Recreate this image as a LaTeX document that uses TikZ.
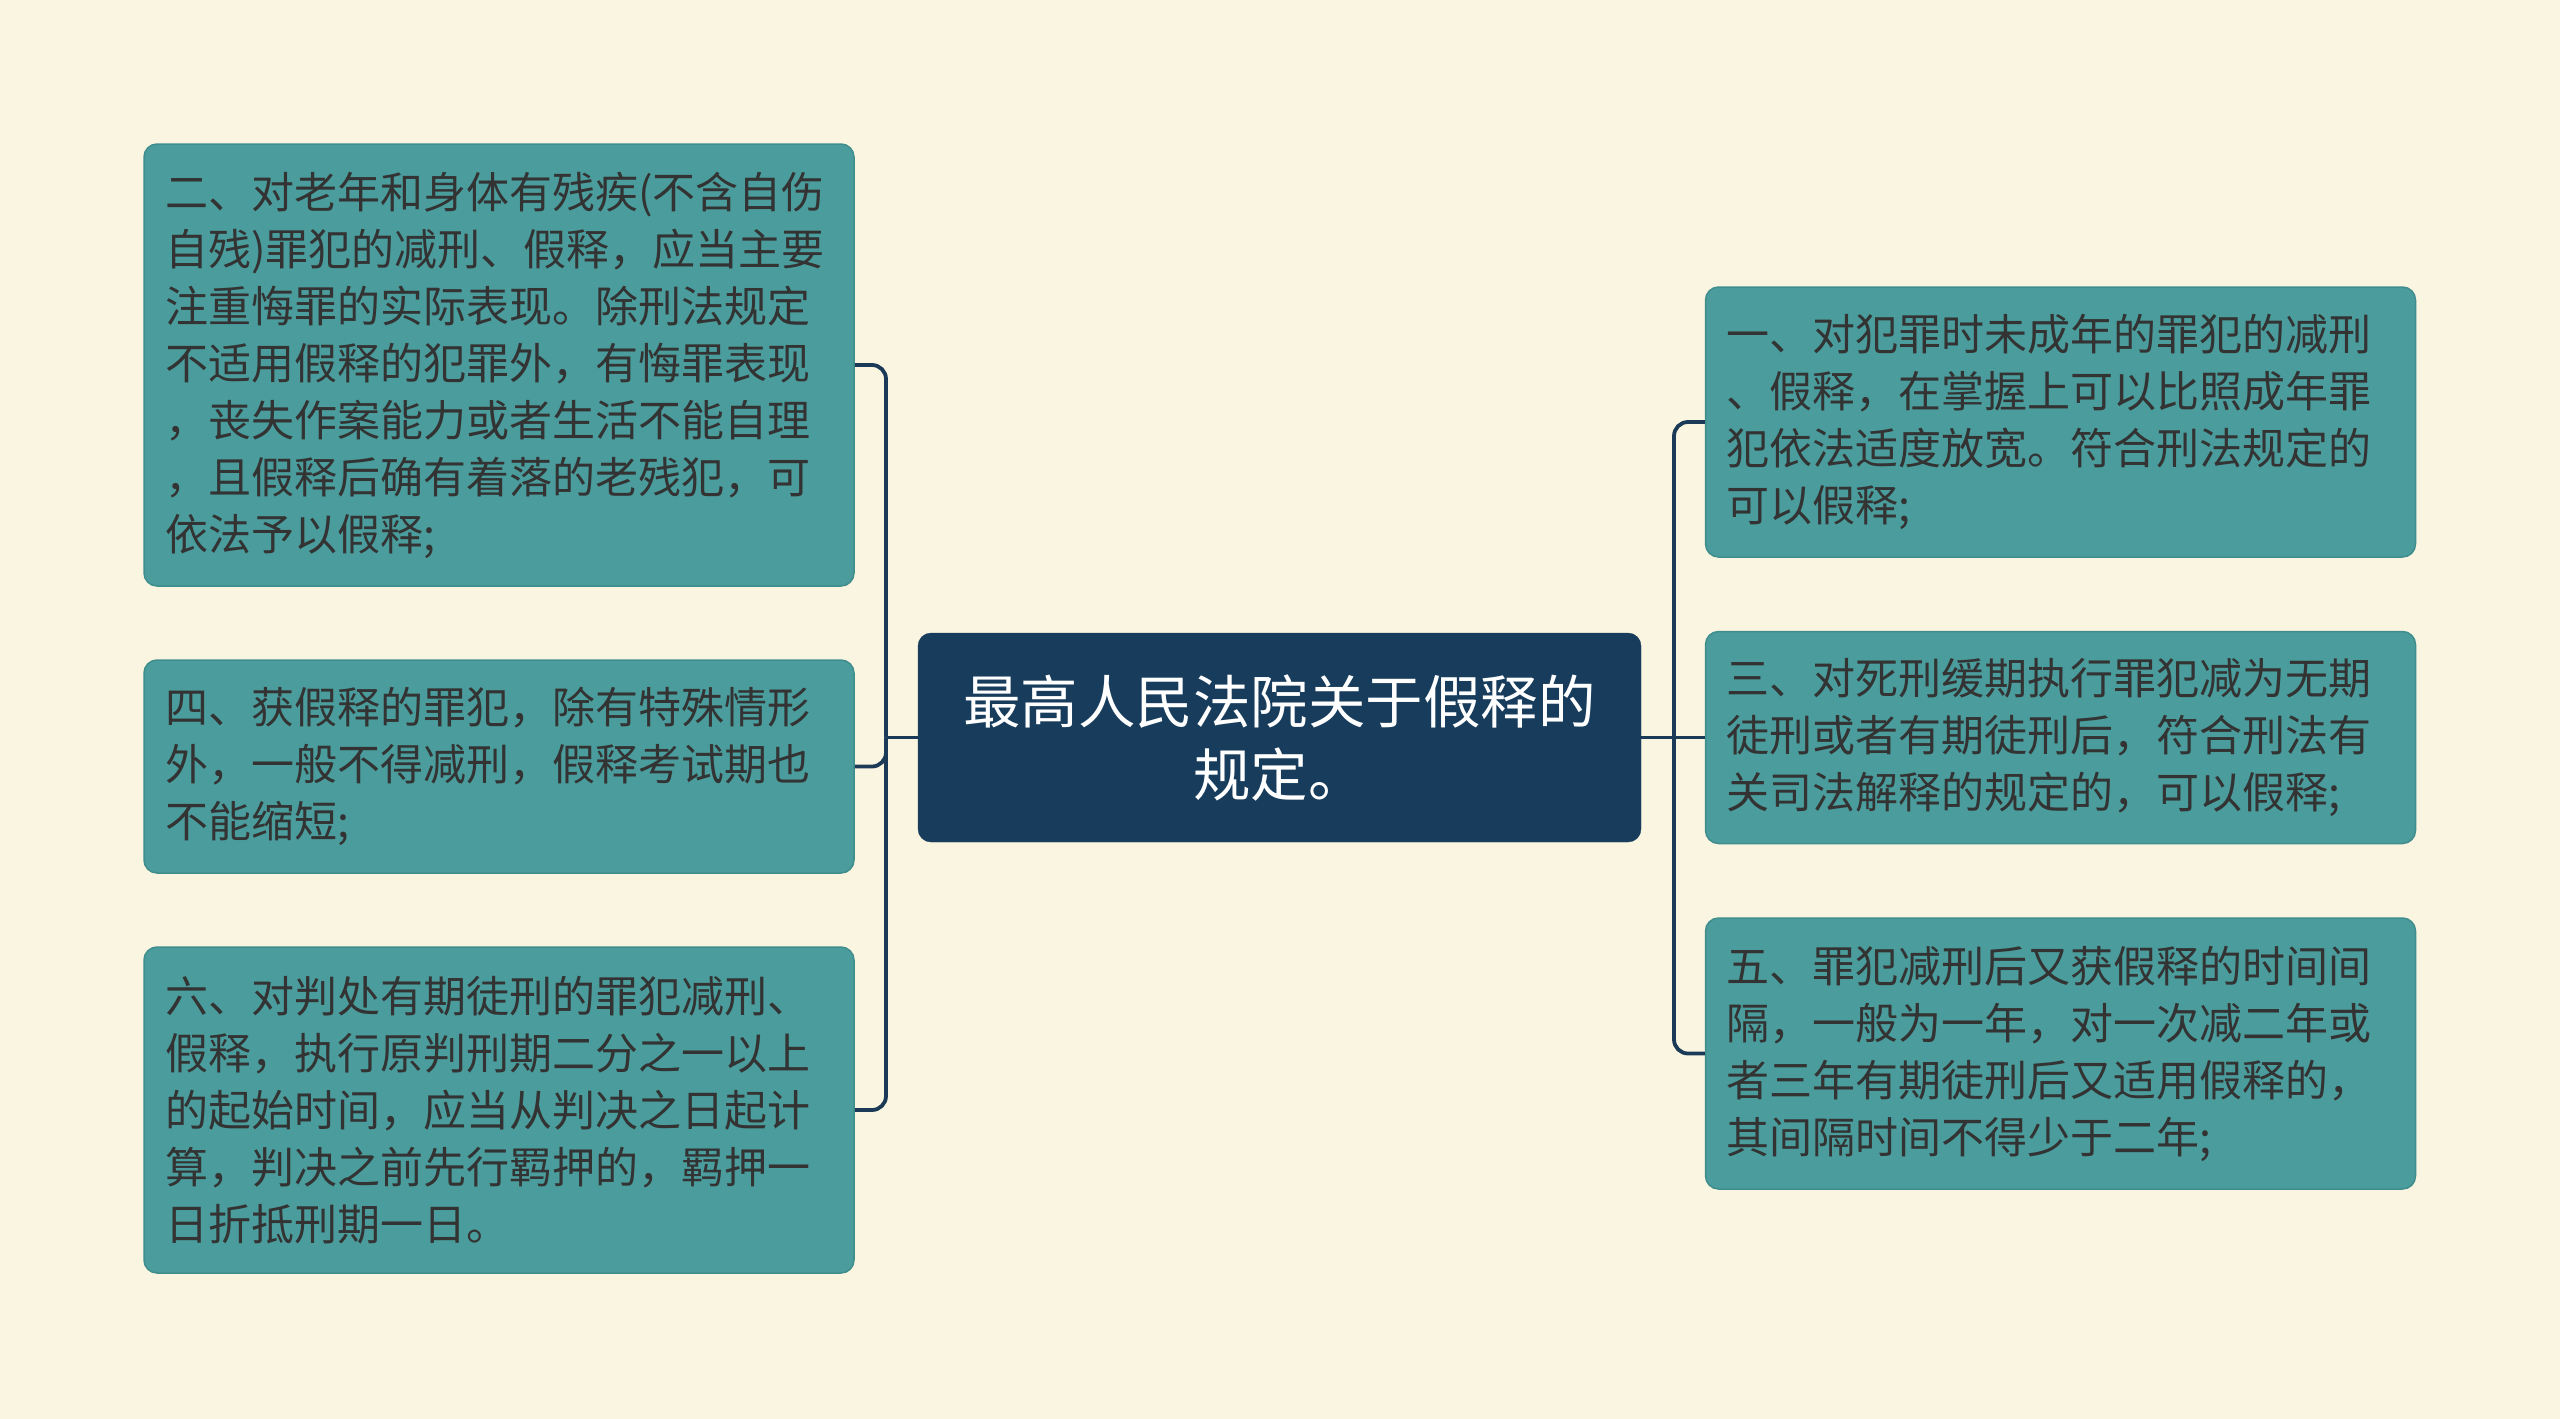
\documentclass[tikz,border=0pt]{standalone}
\usepackage{fontspec}
\newfontfamily\cjk{Noto Sans CJK SC}
\definecolor{bgc}{HTML}{FAF5E1}
\definecolor{tealfill}{HTML}{4B9C9C}
\definecolor{tealline}{HTML}{3F8D8D}
\definecolor{navy}{HTML}{173C5C}
\definecolor{connc}{HTML}{1B3A57}
\definecolor{txt}{HTML}{333333}
\tikzset{
  leaf/.style={draw=tealline, fill=tealfill, line width=1.5pt, rounded corners=13pt,
    inner xsep=21pt, inner ysep=0pt, text width=668pt, align=left, text=txt,
    font=\cjk\fontsize{43}{57}\selectfont},
  rootbox/.style={draw=navy, fill=navy, rounded corners=13pt, inner sep=0pt,
    minimum width=723pt, minimum height=209pt, align=center, text=white,
    font=\cjk\fontsize{57.5}{73}\selectfont},
  conn/.style={draw=connc, line width=3.8pt, rounded corners=14pt}
}
\begin{document}
\begin{tikzpicture}[x=1pt,y=-1pt]
\useasboundingbox (0,0) rectangle (2560,1419);
\fill[bgc] (0,0) rectangle (2560,1419);

\node[rootbox] (C) at (1279.5,737.5) {最高人民法院关于假释的\\规定。};

\node[leaf, minimum height=442pt] (A) at (499,365) {二、对老年和身体有残疾(不含自伤\\自残)罪犯的减刑、假释，应当主要\\注重悔罪的实际表现。除刑法规定\\不适用假释的犯罪外，有悔罪表现\\，丧失作案能力或者生活不能自理\\，且假释后确有着落的老残犯，可\\依法予以假释;};
\node[leaf, minimum height=213pt] (B) at (499,766.5) {四、获假释的罪犯，除有特殊情形\\外，一般不得减刑，假释考试期也\\不能缩短;};
\node[leaf, minimum height=326pt] (D) at (499,1110) {六、对判处有期徒刑的罪犯减刑、\\假释，执行原判刑期二分之一以上\\的起始时间，应当从判决之日起计\\算，判决之前先行羁押的，羁押一\\日折抵刑期一日。};

\node[leaf, minimum height=270pt] (R1) at (2060.5,422) {一、对犯罪时未成年的罪犯的减刑\\、假释，在掌握上可以比照成年罪\\犯依法适度放宽。符合刑法规定的\\可以假释;};
\node[leaf, minimum height=212pt] (R3) at (2060.5,737.5) {三、对死刑缓期执行罪犯减为无期\\徒刑或者有期徒刑后，符合刑法有\\关司法解释的规定的，可以假释;};
\node[leaf, minimum height=271pt] (R5) at (2060.5,1053.5) {五、罪犯减刑后又获假释的时间间\\隔，一般为一年，对一次减二年或\\者三年有期徒刑后又适用假释的，\\其间隔时间不得少于二年;};

\coordinate (jl) at (886,737.5);
\coordinate (jr) at (1674,737.5);
\draw[conn] (C.west) -- (jl);
\draw[conn] (jl) |- (A.east);
\draw[conn] (jl) |- (B.east);
\draw[conn] (jl) |- (D.east);
\draw[conn] (C.east) -- (jr);
\draw[conn] (jr) |- (R1.west);
\draw[conn] (jr) -- (R3.west);
\draw[conn] (jr) |- (R5.west);
\end{tikzpicture}
\end{document}
